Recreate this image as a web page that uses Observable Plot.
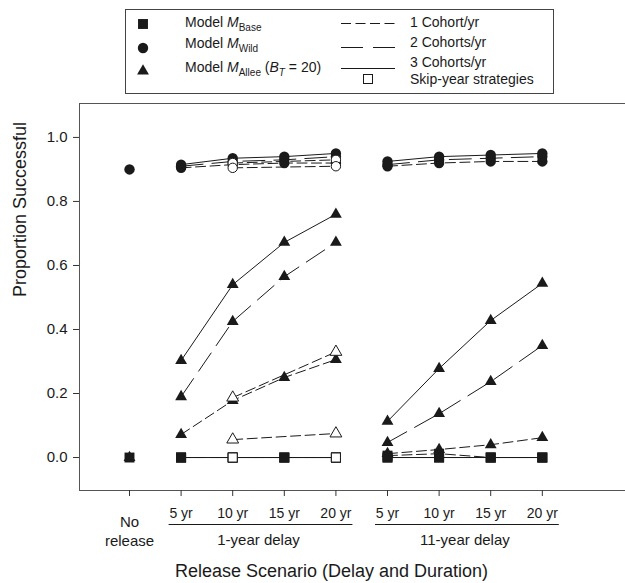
<!DOCTYPE html>
<html><head><meta charset="utf-8">
<script src="https://cdn.jsdelivr.net/npm/d3@7"></script>
<script src="https://cdn.jsdelivr.net/npm/@observablehq/plot@0.6"></script>
<style>
body{margin:0;background:#fff;}
#wrap{position:relative;width:625px;height:583px;}
#legend{position:absolute;left:0;top:0;}
</style></head><body><div id="wrap"></div>
<script>
// ---------- data ----------
const xTickLabels = ["No release","5 yr","10 yr","15 yr","20 yr","5 yr","10 yr","15 yr","20 yr"];
const delays = ["1-year delay","11-year delay"];
const durations = ["5 yr","10 yr","15 yr","20 yr"];
const yTicks = [0, 0.2, 0.4, 0.6, 0.8, 1.0];

// "No release" scenario
const noRelease = [{model:"Base", y:0}, {model:"Wild", y:0.90}, {model:"Allee", y:0}];

// values per delay: [1-year delay, 11-year delay], durations 5,10,15,20 yr
const base1  = [[0,0,0,0],[0.006,0.012,0,0]];
const base2  = [[0,0,0,0],[0,0,0,0]];
const base3  = [[0,0,0,0],[0,0,0,0]];
const wild1  = [[0.905,0.915,0.92,0.92],[0.91,0.92,0.925,0.925]];
const wild2  = [[0.91,0.925,0.93,0.94],[0.915,0.93,0.935,0.94]];
const wild3  = [[0.915,0.935,0.94,0.95],[0.925,0.94,0.945,0.95]];
const allee1 = [[0.072,0.178,0.25,0.306],[0.012,0.025,0.04,0.062]];
const allee2 = [[0.19,0.425,0.565,0.672],[0.047,0.137,0.237,0.35]];
const allee3 = [[0.303,0.54,0.672,0.76],[0.113,0.278,0.428,0.544]];

// skip-year strategies (1-year delay, 10 yr and 20 yr)
const skipDurations = ["10 yr","20 yr"];
const skipBase  = [[0,0]];
const skipWild  = [[0.92,0.93],[0.905,0.91]];
const skipAllee = [[0.187,0.33],[0.056,0.075]];

// ---------- tidy rows ----------
const seriesDefs = [
  ["Base",1,base1],["Base",2,base2],["Base",3,base3],
  ["Wild",1,wild1],["Wild",2,wild2],["Wild",3,wild3],
  ["Allee",1,allee1],["Allee",2,allee2],["Allee",3,allee3]
];
const rows = [];
for (const [model, cohort, vals] of seriesDefs) {
  vals.forEach((arr, d) => arr.forEach((v, j) => {
    rows.push({model, cohort, series: `${model}-${cohort}-${d}`, x: 1 + d*durations.length + j, y: v});
  }));
}
const skipRows = [];
for (const [model, sets] of [["Base",skipBase],["Wild",skipWild],["Allee",skipAllee]]) {
  sets.forEach((arr, k) => arr.forEach((v, j) => {
    skipRows.push({model, series: `${model}-skip-${k}`, x: 1 + durations.indexOf(skipDurations[j]), y: v});
  }));
}
const noRows = noRelease.map(d => ({...d, x: 0}));
const filled = rows.concat(noRows);

// ---------- chart ----------
const xDomain = [-0.969, 9.612];
const yDomain = [-0.103, 1.106];
const ink = "#1a1a1a";
const rCircle = 5.2, rSquare = 5.6, rTri = 4.4;
const dash1 = "10,4.5", dash2 = "22,9";

const plot = Plot.plot({
  width: 625, height: 583,
  marginLeft: 79, marginRight: 0, marginTop: 103, marginBottom: 93,
  style: {fontFamily: "'Liberation Sans', Arial, Helvetica, sans-serif", fontSize: "14px", color: ink, background: "white"},
  x: {domain: xDomain},
  y: {domain: yDomain},
  marks: [
    Plot.ruleY([yDomain[0], yDomain[1]], {stroke: "#555"}),
    Plot.ruleX([xDomain[0]], {stroke: "#555"}),
    Plot.axisX({ticks: d3.range(0, 9), tickFormat: i => i === 0 ? "" : xTickLabels[i], tickSize: 6, tickPadding: 12, fontSize: 14, label: null, stroke: "#333"}),
    Plot.axisY({ticks: yTicks, tickFormat: d3.format(".1f"), tickSize: 6, tickPadding: 6, fontSize: 15, label: null, stroke: "#333"}),
    Plot.text([xTickLabels[0]], {x: 0, text: d => d.replace(" ", "\n"), frameAnchor: "bottom", lineAnchor: "middle", dy: 40, fontSize: 15, lineHeight: 1.27}),
    Plot.text(delays, {x: (d, i) => 2.5 + 4*i, frameAnchor: "bottom", lineAnchor: "middle", dy: 50, fontSize: 15}),
    Plot.text(["Proportion Successful"], {frameAnchor: "left", lineAnchor: "middle", rotate: -90, dx: -59, fontSize: 18}),
    Plot.text(["Release Scenario (Delay and Duration)"], {frameAnchor: "bottom", lineAnchor: "middle", dx: -21, dy: 81, fontSize: 18}),
    // lines
    Plot.line(rows.filter(d => d.cohort === 1), {x: "x", y: "y", z: "series", stroke: ink, strokeWidth: 1, strokeDasharray: dash1}),
    Plot.line(skipRows, {x: "x", y: "y", z: "series", stroke: ink, strokeWidth: 1, strokeDasharray: dash1}),
    Plot.line(rows.filter(d => d.cohort === 2), {x: "x", y: "y", z: "series", stroke: ink, strokeWidth: 1, strokeDasharray: dash2}),
    Plot.line(rows.filter(d => d.cohort === 3), {x: "x", y: "y", z: "series", stroke: ink, strokeWidth: 1}),
    // filled markers
    Plot.dot(filled.filter(d => d.model === "Base"), {x: "x", y: "y", symbol: "square", r: rSquare, fill: ink, stroke: "none"}),
    Plot.dot(filled.filter(d => d.model === "Wild"), {x: "x", y: "y", symbol: "circle", r: rCircle, fill: ink, stroke: "none"}),
    Plot.dot(filled.filter(d => d.model === "Allee"), {x: "x", y: "y", symbol: "triangle", r: rTri, fill: ink, stroke: "none"}),
    // skip-year (open) markers
    Plot.dot(skipRows.filter(d => d.model === "Base"), {x: "x", y: "y", symbol: "square", r: rSquare - 0.5, fill: "white", stroke: ink, strokeWidth: 1}),
    Plot.dot(skipRows.filter(d => d.model === "Wild"), {x: "x", y: "y", symbol: "circle", r: rCircle - 0.5, fill: "white", stroke: ink, strokeWidth: 1}),
    Plot.dot(skipRows.filter(d => d.model === "Allee"), {x: "x", y: "y", symbol: "triangle", r: rTri, fill: "white", stroke: ink, strokeWidth: 1})
  ]
});
document.getElementById("wrap").appendChild(plot);

// group underlines, placed with the plot's own x scale
const xs = plot.scale("x");
const svgSel = d3.select(plot);
delays.forEach((d, i) => {
  const x1 = xs.apply(1 + 4*i) - 12, x2 = xs.apply(4 + 4*i) + 17;
  svgSel.append("line").attr("x1", x1).attr("x2", x2).attr("y1", 524.5).attr("y2", 524.5)
    .attr("stroke", ink).attr("stroke-width", 1);
});

// ---------- legend ----------
const legendModels = [
  {name: "Base", sym: d3.symbolSquare, r: rSquare},
  {name: "Wild", sym: d3.symbolCircle, r: rCircle},
  {name: "Allee", sym: d3.symbolTriangle, r: rTri}
];
const legendLines = [
  {label: "1 Cohort/yr", dash: dash1},
  {label: "2 Cohorts/yr", dash: "22,10"},
  {label: "3 Cohorts/yr", dash: null}
];
const leg = d3.select("#wrap").append("svg").attr("id", "legend").attr("width", 625).attr("height", 100)
  .style("font-family", "'Liberation Sans', Arial, Helvetica, sans-serif").style("font-size", "14px");
leg.append("rect").attr("x", 125.5).attr("y", 9.5).attr("width", 428).attr("height", 84)
  .attr("fill", "none").attr("stroke", "#444");
const rowSymY = [24, 48, 71], rowTxtY = [27, 48, 72];
legendModels.forEach((m, i) => {
  leg.append("path").attr("d", d3.symbol(m.sym, Math.PI * m.r * m.r)())
    .attr("transform", `translate(143,${rowSymY[i]})`).attr("fill", ink);
  const t = leg.append("text").attr("x", 185).attr("y", rowTxtY[i]).attr("fill", ink);
  t.append("tspan").text("Model ");
  t.append("tspan").attr("font-style", "italic").text("M");
  t.append("tspan").attr("font-size", 10).attr("dy", 4).text(m.name);
  if (m.name === "Allee") {
    t.append("tspan").attr("dy", -4).text(" (");
    t.append("tspan").attr("font-style", "italic").text("B");
    t.append("tspan").attr("font-style", "italic").attr("font-size", 10).attr("dy", 4).text("T");
    t.append("tspan").attr("dy", -4).text(" = 20)");
  }
});
const lineY = [23.5, 47.5, 68.5], lineTxtY = [26.5, 47, 67];
legendLines.forEach((l, i) => {
  const ln = leg.append("line").attr("x1", 341).attr("x2", 395).attr("y1", lineY[i]).attr("y2", lineY[i])
    .attr("stroke", ink).attr("stroke-width", 1);
  if (l.dash) ln.attr("stroke-dasharray", l.dash);
  leg.append("text").attr("x", 410).attr("y", lineTxtY[i]).attr("fill", ink).text(l.label);
});
leg.append("rect").attr("x", 363.5).attr("y", 74.5).attr("width", 9).attr("height", 9)
  .attr("fill", "white").attr("stroke", ink);
leg.append("text").attr("x", 410).attr("y", 84).attr("fill", ink).text("Skip-year strategies");
</script></body></html>
